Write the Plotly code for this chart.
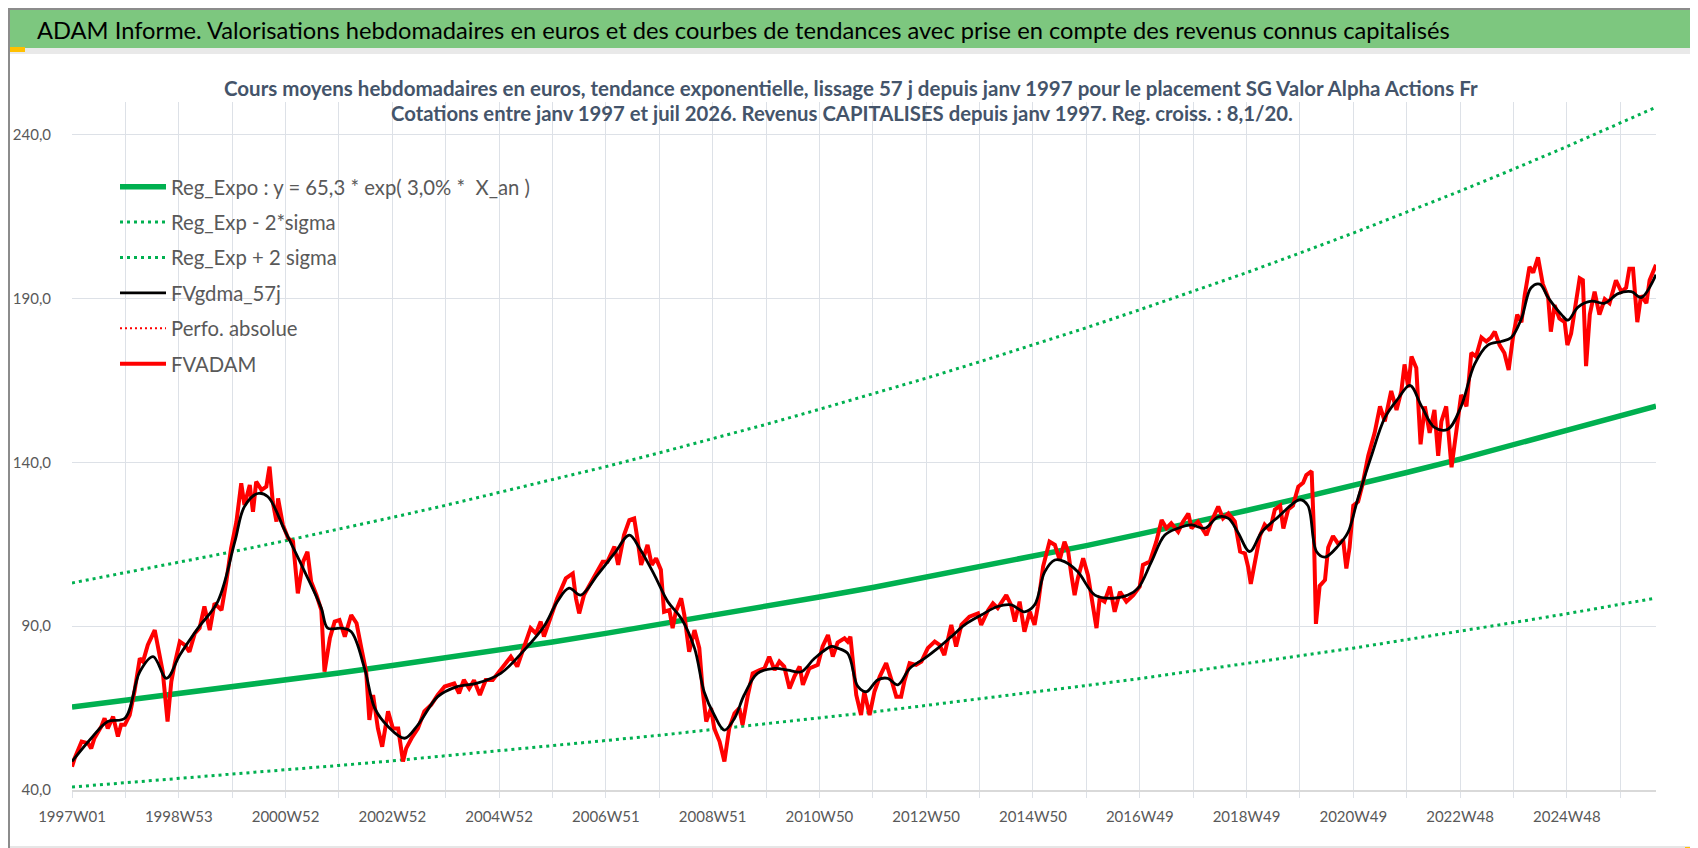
import plotly.graph_objects as go

# --- data (x in decimal years, y in euros) ---
trend_years = [1997, 1998, 1999, 2000, 2001, 2002, 2003, 2004, 2005, 2006, 2007, 2008, 2009, 2010, 2011,
               2012, 2013, 2014, 2015, 2016, 2017, 2018, 2019, 2020, 2021, 2022, 2023, 2024, 2025, 2026, 2026.67]
reg_expo = [65.3, 67.3, 69.3, 71.4, 73.5, 75.7, 78.0, 80.3, 82.8, 85.2, 87.8, 90.5, 93.2, 96.0, 98.9,
            101.8, 104.9, 108.0, 111.3, 114.6, 118.1, 121.6, 125.3, 129.1, 132.9, 136.9, 141.0, 145.3, 149.7, 154.2, 157.2]
reg_low = [40.9, 42.2, 43.4, 44.7, 46.1, 47.5, 48.9, 50.4, 51.9, 53.4, 55.1, 56.7, 58.4, 60.2, 62.0,
           63.8, 65.8, 67.7, 69.8, 71.9, 74.0, 76.3, 78.6, 80.9, 83.3, 85.9, 88.4, 91.1, 93.8, 96.7, 98.6]
reg_high = [103.2, 106.3, 109.5, 112.7, 116.1, 119.6, 123.2, 126.9, 130.8, 134.7, 138.7, 142.9, 147.2, 151.6, 156.2,
            160.9, 165.7, 170.7, 175.8, 181.1, 186.6, 192.2, 197.9, 203.9, 210.0, 216.4, 222.8, 229.5, 236.4, 243.6, 248.4]

fvadam_years = [
    1997.00, 1997.05, 1997.18, 1997.30, 1997.36, 1997.42, 1997.55, 1997.61, 1997.67, 1997.77, 1997.86, 1997.92, 1997.99,
    1998.08, 1998.17, 1998.27, 1998.33, 1998.42, 1998.55, 1998.61, 1998.70, 1998.79, 1998.86, 1998.92,
    1999.02, 1999.11, 1999.20, 1999.30, 1999.39, 1999.48, 1999.58, 1999.67, 1999.80, 1999.89, 1999.98,
    2000.08, 2000.17, 2000.23, 2000.33, 2000.39, 2000.45, 2000.55, 2000.64, 2000.70, 2000.76, 2000.83, 2000.86, 2000.95,
    2001.05, 2001.14, 2001.23, 2001.33, 2001.41, 2001.48, 2001.58, 2001.67, 2001.73, 2001.83, 2001.92,
    2002.01, 2002.11, 2002.23, 2002.33, 2002.42, 2002.51, 2002.57, 2002.64, 2002.73, 2002.81, 2002.92,
    2003.01, 2003.11, 2003.20, 2003.26, 2003.36, 2003.48, 2003.60, 2003.73, 2003.85, 2003.98,
    2004.16, 2004.25, 2004.34, 2004.44, 2004.53, 2004.64, 2004.75, 2004.88, 2004.97,
    2005.09, 2005.22, 2005.34, 2005.47, 2005.59, 2005.69, 2005.78, 2005.84, 2005.97,
    2006.09, 2006.25, 2006.38, 2006.44, 2006.50, 2006.59, 2006.72, 2006.84, 2006.94,
    2007.03, 2007.16, 2007.23, 2007.34, 2007.44, 2007.53, 2007.59, 2007.66, 2007.72, 2007.78, 2007.86, 2007.94,
    2008.03, 2008.09, 2008.19, 2008.25, 2008.31, 2008.41, 2008.47, 2008.56, 2008.66, 2008.75, 2008.81, 2008.88, 2008.97,
    2009.03, 2009.13, 2009.22, 2009.31, 2009.41, 2009.50, 2009.56, 2009.66, 2009.75, 2009.88, 2009.97,
    2010.06, 2010.16, 2010.25, 2010.34, 2010.44, 2010.53, 2010.63, 2010.69, 2010.81, 2010.97,
    2011.06, 2011.16, 2011.25, 2011.34, 2011.47, 2011.53, 2011.58, 2011.63, 2011.69, 2011.78, 2011.84, 2011.94,
    2012.03, 2012.13, 2012.25, 2012.34, 2012.44, 2012.53, 2012.59, 2012.69, 2012.81, 2012.91,
    2013.03, 2013.16, 2013.25, 2013.34, 2013.47, 2013.56, 2013.66, 2013.81, 2013.97,
    2014.03, 2014.16, 2014.25, 2014.34, 2014.50, 2014.59, 2014.66, 2014.75, 2014.84, 2014.94,
    2015.03, 2015.09, 2015.19, 2015.31, 2015.41, 2015.50, 2015.59, 2015.66, 2015.72, 2015.78, 2015.84, 2015.94,
    2016.03, 2016.09, 2016.19, 2016.25, 2016.34, 2016.44, 2016.53, 2016.63, 2016.75, 2016.88,
    2017.00, 2017.06, 2017.19, 2017.31, 2017.41, 2017.50, 2017.59, 2017.72, 2017.81, 2017.91, 2017.97,
    2018.09, 2018.16, 2018.25, 2018.34, 2018.47, 2018.56, 2018.66, 2018.78, 2018.84, 2018.88, 2018.97,
    2019.03, 2019.08, 2019.16, 2019.25, 2019.34, 2019.44, 2019.53, 2019.63, 2019.69, 2019.78, 2019.87, 2019.97,
    2020.06, 2020.12, 2020.22, 2020.26, 2020.30, 2020.37, 2020.47, 2020.53, 2020.62, 2020.72, 2020.81, 2020.87, 2020.93,
    2021.00, 2021.09, 2021.18, 2021.28, 2021.40, 2021.50, 2021.59, 2021.71, 2021.81, 2021.90, 2021.96,
    2022.03, 2022.09, 2022.18, 2022.26, 2022.34, 2022.43, 2022.52, 2022.59, 2022.65, 2022.74, 2022.84, 2022.93,
    2023.02, 2023.12, 2023.21, 2023.30, 2023.40, 2023.49, 2023.58, 2023.65, 2023.74, 2023.83, 2023.91, 2023.99,
    2024.07, 2024.15, 2024.21, 2024.30, 2024.37, 2024.46, 2024.55, 2024.65, 2024.70, 2024.77, 2024.86, 2024.96,
    2025.01, 2025.08, 2025.18, 2025.24, 2025.30, 2025.36, 2025.43, 2025.52, 2025.61, 2025.71, 2025.80, 2025.92,
    2026.02, 2026.11, 2026.17, 2026.24, 2026.32, 2026.39, 2026.49, 2026.55, 2026.67]
fvadam = [
    47.1, 49.7, 54.8, 54.3, 52.7, 55.8, 59.4, 61.9, 58.8, 62.4, 56.3, 59.9, 59.9,
    62.9, 70.0, 80.2, 79.2, 84.3, 88.8, 83.3, 76.1, 60.9, 73.1, 78.2,
    85.3, 84.3, 82.2, 87.8, 89.4, 96.0, 88.8, 97.0, 94.9, 103.6, 113.8,
    121.9, 133.6, 127.0, 133.1, 124.9, 134.1, 131.6, 132.6, 138.7, 128.0, 121.9, 129.0, 120.9,
    116.8, 115.8, 100.0, 109.7, 112.7, 103.6, 99.5, 94.9, 76.1, 86.3, 91.4,
    91.9, 86.8, 93.4, 90.9, 83.3, 76.1, 61.4, 69.0, 58.8, 53.2, 64.0,
    58.8, 58.8, 48.7, 52.7, 55.8, 58.8, 64.0, 66.0, 69.0, 71.6,
    72.5, 69.5, 73.6, 71.0, 73.5, 69.0, 73.6, 73.6, 75.6,
    78.2, 80.7, 77.7, 83.8, 89.4, 87.8, 91.4, 86.8, 93.4,
    98.5, 104.6, 106.1, 98.5, 93.9, 99.5, 103.1, 106.6, 109.7,
    109.7, 114.3, 108.7, 117.8, 122.4, 122.9, 116.8, 108.7, 111.7, 114.8, 108.7, 110.7,
    107.2, 94.4, 94.9, 89.4, 94.4, 98.5, 93.4, 82.2, 88.8, 83.3, 71.0, 60.9, 65.0,
    58.8, 54.8, 48.7, 58.8, 63.4, 65.0, 59.9, 69.0, 75.6, 76.6, 77.1,
    80.7, 76.6, 79.2, 77.7, 71.0, 74.6, 77.7, 72.1, 77.1, 78.2,
    83.8, 87.3, 80.7, 85.0, 86.3, 85.3, 86.8, 77.1, 69.0, 62.9, 70.0, 62.9,
    70.0, 74.6, 78.7, 74.1, 68.5, 68.5, 73.1, 78.7, 78.2, 79.2,
    83.3, 85.3, 84.3, 81.2, 90.4, 83.8, 90.4, 92.9, 93.9,
    90.4, 94.9, 97.0, 95.5, 99.5, 96.5, 91.4, 97.5, 88.3, 94.4,
    90.4, 96.0, 108.2, 115.8, 114.8, 110.2, 115.8, 112.7, 105.6, 99.5, 104.6, 110.7,
    105.6, 99.0, 89.4, 98.5, 97.5, 102.1, 94.4, 100.5, 97.5, 99.5,
    102.1, 108.7, 109.7, 115.8, 122.4, 119.9, 121.4, 118.8, 121.9, 124.4, 119.9,
    121.9, 119.9, 117.8, 121.9, 126.5, 122.9, 124.4, 122.0, 115.8, 112.8, 112.2,
    108.1, 102.9, 110.5, 117.5, 121.0, 119.2, 125.6, 126.8, 119.8, 125.6, 126.8, 132.6,
    133.8, 136.1, 137.3, 119.8, 90.7, 102.3, 104.1, 114.0, 117.5, 115.1, 116.3, 107.6, 114.0,
    126.8, 128.0, 133.8, 142.0, 149.0, 157.1, 152.5, 161.8, 156.0, 161.8, 169.9,
    162.9, 172.3, 168.8, 145.5, 157.1, 149.0, 156.0, 142.0, 152.5, 157.1, 138.5, 149.0,
    160.6, 157.1, 173.4, 172.3, 178.1, 176.9, 178.1, 179.9, 175.8, 173.4, 168.2, 178.1,
    185.1, 182.8, 190.9, 199.7, 197.9, 202.6, 194.4, 190.3, 179.9, 188.0, 183.9, 182.8,
    175.8, 179.3, 190.9, 196.2, 195.6, 169.4, 185.1, 192.1, 185.1, 189.8, 188.6, 195.6,
    192.1, 193.3, 199.1, 199.1, 182.8, 190.9, 188.6, 195.6, 200.3]

gdma_years = [
    1997.00, 1997.36, 1997.67, 1997.99, 1998.27, 1998.52, 1998.77, 1999.02, 1999.36, 1999.73,
    2000.05, 2000.23, 2000.48, 2000.67, 2000.98, 2001.36, 2001.67, 2001.79, 2002.04, 2002.23,
    2002.48, 2002.67, 2002.92, 2003.23, 2003.48, 2003.85, 2004.20, 2004.59, 2005.03, 2005.47,
    2005.84, 2006.09, 2006.31, 2006.53, 2006.84, 2007.16, 2007.44, 2007.63, 2007.91, 2008.16,
    2008.41, 2008.66, 2008.84, 2009.03, 2009.22, 2009.41, 2009.59, 2009.84, 2010.16, 2010.41,
    2010.66, 2010.91, 2011.22, 2011.34, 2011.53, 2011.72, 2011.88, 2012.09, 2012.28, 2012.47,
    2012.69, 2012.97, 2013.22, 2013.47, 2013.72, 2014.03, 2014.34, 2014.59, 2014.84, 2015.03,
    2015.22, 2015.41, 2015.59, 2015.84, 2016.16, 2016.47, 2016.78, 2016.97, 2017.22, 2017.47,
    2017.72, 2017.97, 2018.22, 2018.47, 2018.66, 2018.84, 2019.06, 2019.28, 2019.59, 2020.00,
    2020.15, 2020.31, 2020.47, 2020.72, 2020.90, 2021.09, 2021.34, 2021.59, 2021.84, 2022.06,
    2022.28, 2022.52, 2022.77, 2023.02, 2023.27, 2023.52, 2023.77, 2023.96, 2024.15, 2024.33,
    2024.49, 2024.65, 2024.90, 2025.02, 2025.21, 2025.46, 2025.71, 2025.96, 2026.21, 2026.39, 2026.67]
fvgdma = [
    48.7, 55.8, 60.9, 61.9, 76.1, 80.7, 74.1, 81.2, 89.4, 97.5,
    115.8, 126.5, 130.5, 129.5, 119.4, 106.6, 95.5, 89.4, 89.4, 88.3,
    77.1, 65.0, 59.4, 55.8, 59.9, 68.5, 71.5, 72.6, 75.6, 82.7,
    89.9, 97.5, 101.6, 99.5, 105.6, 112.2, 117.8, 113.8, 105.6, 97.5,
    92.4, 83.3, 70.0, 62.9, 58.3, 61.9, 69.0, 75.6, 77.1, 76.6,
    76.1, 80.2, 83.8, 83.3, 81.7, 71.6, 70.0, 73.6, 74.1, 72.1,
    77.1, 80.2, 83.3, 86.8, 90.4, 93.4, 96.0, 96.5, 94.4, 96.5,
    106.6, 110.2, 109.7, 106.6, 99.5, 98.5, 99.5, 101.6, 109.7, 117.8,
    119.9, 120.9, 119.9, 123.4, 122.9, 118.6, 112.8, 118.6, 123.3, 128.6,
    126.8, 112.8, 111.1, 114.6, 118.6, 129.2, 142.0, 153.6, 159.5, 163.5,
    157.1, 150.7, 150.1, 157.1, 169.9, 175.8, 176.9, 178.1, 183.9, 193.3,
    194.4, 190.3, 185.1, 183.4, 187.4, 189.2, 188.6, 191.5, 192.1, 190.3, 197.3]

tick_years = list(range(1997, 2027))
week_labels = ["1997W01", "1998W53", "2000W52", "2002W52", "2004W52", "2006W51", "2008W51", "2010W50",
               "2012W50", "2014W50", "2016W49", "2018W49", "2020W49", "2022W48", "2024W48"]
y_ticks = [40, 90, 140, 190, 240]
y_labels = ["40,0", "90,0", "140,0", "190,0", "240,0"]

# --- page geometry (pixels) ---
W, H = 1698, 848
L, R, T, B = 64, 1648, 94, 782
PW, PH = R - L, B - T


def px(x):
    return (x - L) / PW


def py(y):
    return (B - y) / PH


GREEN = "#00B050"
GRID = "#DDE1E7"
FONT = "Lato, Calibri, sans-serif"

fig = go.Figure()

fig.add_trace(go.Scatter(x=trend_years, y=reg_low, name="Reg_Exp - 2*sigma", mode="lines",
                         line=dict(color=GREEN, width=3, dash="3px,4px"), legendrank=2, legendgroup="b"))
fig.add_trace(go.Scatter(x=trend_years, y=reg_high, name="Reg_Exp + 2 sigma", mode="lines",
                         line=dict(color=GREEN, width=3, dash="3px,4px"), legendrank=3, legendgroup="c"))
fig.add_trace(go.Scatter(x=trend_years, y=reg_expo, name="Reg_Expo : y = 65,3 * exp( 3,0% *  X_an )",
                         mode="lines", line=dict(color=GREEN, width=5.5), legendrank=1, legendgroup="a"))
fig.add_trace(go.Scatter(x=[None], y=[None], name="Perfo. absolue", mode="lines",
                         line=dict(color="#FF0000", width=2, dash="2px,3px"), legendrank=5, legendgroup="e"))
fig.add_trace(go.Scatter(x=fvadam_years, y=fvadam, name="FVADAM", mode="lines",
                         line=dict(color="#FF0000", width=4), legendrank=6, legendgroup="f"))
fig.add_trace(go.Scatter(x=gdma_years, y=fvgdma, name="FVgdma_57j", mode="lines",
                         line=dict(color="#000000", width=2.8, shape="spline"), legendrank=4, legendgroup="d"))

tick_text = [week_labels[i // 2] if i % 2 == 0 else "" for i in range(len(tick_years))]

fig.update_xaxes(range=[1997, 2026.67], tickmode="array", tickvals=tick_years, ticktext=tick_text,
                 showgrid=True, gridcolor=GRID, gridwidth=1.3, ticks="outside", ticklen=6,
                 tickcolor=GRID, tickwidth=1.3, showline=True, linecolor="#D9D9D9", linewidth=2,
                 zeroline=False, ticklabelstandoff=6, automargin=False,
                 tickfont=dict(family=FONT, size=15, color="#595959"))
fig.update_yaxes(range=[40, 250], tickmode="array", tickvals=y_ticks, ticktext=y_labels,
                 showgrid=True, gridcolor=GRID, gridwidth=1.3, ticks="", showline=False,
                 zeroline=False, ticklabelstandoff=20, automargin=False,
                 tickfont=dict(family=FONT, size=15, color="#595959"))

shapes = [
    # green banner and separators
    dict(type="rect", x0=px(2), x1=px(1693), y0=py(40), y1=py(2), fillcolor="#7DC77F", line_width=0),
    dict(type="rect", x0=px(2), x1=px(1693), y0=py(46), y1=py(40), fillcolor="#E9E9E9", line_width=0),
    dict(type="rect", x0=px(2), x1=px(1693), y0=py(841), y1=py(838), fillcolor="#E6E6E6", line_width=0),
    # outer frame
    dict(type="rect", x0=px(1), x1=px(1697), y0=py(847), y1=py(1), line=dict(color="#8C8C8C", width=2)),
    # white box behind the chart title
    dict(type="rect", x0=px(211), x1=px(1478), y0=py(129), y1=py(92), fillcolor="white",
         line_width=0, layer="between"),
    # selection handles
    dict(type="rect", x0=px(2), x1=px(17), y0=py(44), y1=py(39), fillcolor="#FFC000", line_width=0),
    dict(type="rect", x0=px(1688), x1=px(1696), y0=py(42), y1=py(38), fillcolor="#FFC000", line_width=0),
    dict(type="rect", x0=px(1692), x1=px(1696), y0=py(53), y1=py(38), fillcolor="#FFC000", line_width=0),
    dict(type="rect", x0=px(2), x1=px(17), y0=py(846), y1=py(840), fillcolor="#FFC000", line_width=0),
    dict(type="rect", x0=px(1691), x1=px(1696), y0=py(844), y1=py(812), fillcolor="#FFC000", line_width=0),
    dict(type="rect", x0=px(1677), x1=px(1696), y0=py(844), y1=py(839), fillcolor="#FFC000", line_width=0),
    dict(type="rect", x0=px(656), x1=px(770), y0=py(846), y1=py(843), fillcolor="#FFF0A0", line_width=0),
    dict(type="rect", x0=px(996), x1=px(1110), y0=py(846), y1=py(843), fillcolor="#FFF0A0", line_width=0),
]
for s in shapes:
    s.update(xref="paper", yref="paper")
    s.setdefault("layer", "above")

annotations = [
    dict(text="ADAM Informe. Valorisations hebdomadaires en euros et des courbes de tendances avec prise en compte des revenus connus capitalisés",
         x=px(27), y=py(22), xanchor="left", yanchor="middle",
         font=dict(family=FONT, size=23.7, color="#000000")),
    dict(text="<b>Cours moyens hebdomadaires en euros, tendance exponentielle, lissage 57 j depuis janv 1997 pour le placement SG Valor Alpha Actions Fr</b>",
         x=px(843), y=py(80), xanchor="center", yanchor="middle",
         font=dict(family=FONT, size=20.5, color="#44546A")),
    dict(text="<b>Cotations entre janv 1997 et juil 2026. Revenus CAPITALISES depuis janv 1997. Reg. croiss. : 8,1/20.</b>",
         x=px(834), y=py(105), xanchor="center", yanchor="middle",
         font=dict(family=FONT, size=20.3, color="#44546A")),
]
for a in annotations:
    a.update(xref="paper", yref="paper", showarrow=False)

fig.update_layout(
    width=W, height=H,
    margin=dict(l=L, r=W - R, t=T, b=H - B),
    paper_bgcolor="white", plot_bgcolor="white",
    shapes=shapes, annotations=annotations,
    legend=dict(x=px(107), y=py(159), xanchor="left", yanchor="top", bgcolor="rgba(0,0,0,0)",
                font=dict(family=FONT, size=20.3, color="#595959"), itemwidth=46, tracegroupgap=6),
    showlegend=True,
)

fig.write_html("out.html")
